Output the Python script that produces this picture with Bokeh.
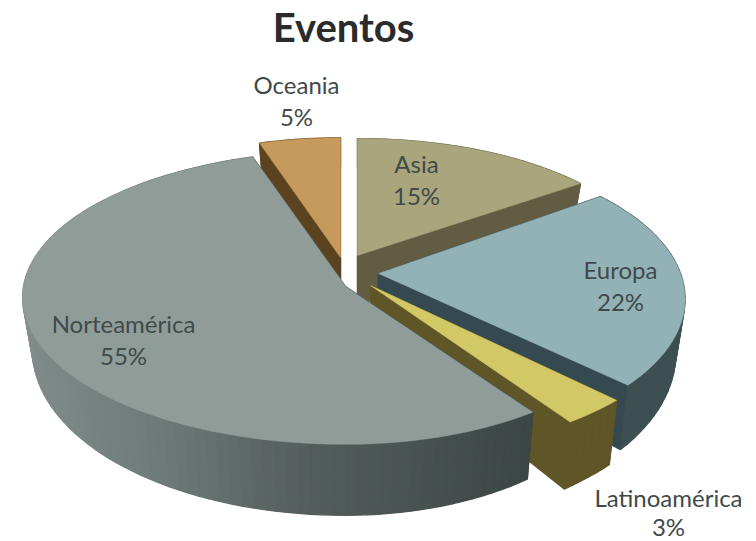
import numpy as np
from bokeh.core.properties import value
from bokeh.embed import file_html
from bokeh.models import ColumnDataSource, Range1d
from bokeh.plotting import figure
from bokeh.resources import INLINE

# Share of events per region, clockwise from twelve o'clock
categories = ["Asia", "Europa", "Latinoamérica", "Norteamérica", "Oceania"]
percentages = [15, 22, 3, 55, 5]
chart_title = "Eventos"

# Drawing style for each exploded slice: apex, radii, perspective strength, colours
SHAPE = {
    "Asia": dict(cx=357, cy=255, rx=295, ry=131, k=0.12, top="#a9a57c", side="#625c42"),
    "Europa": dict(cx=378, cy=273, rx=302, ry=144, k=0.172, top="#93b2b6", side="#3d4f51", radial="#354a50"),
    "Latinoamérica": dict(cx=370, cy=285, rx=326, ry=162, k=0.05, top="#d2c866", side="#5f5527"),
    "Norteamérica": dict(cx=345, cy=286, rx=322, ry=146, k=0.075, rx_right=0.93, top="#909c98",
                         side=[(25, "#808c89"), (150, "#6f7b78"), (300, "#545f5d"), (530, "#3b4645")]),
    "Oceania": dict(cx=340, cy=257, rx=292, ry=134, k=0.12, top="#c69a5c", side="#5c4320"),
}
LABEL_POS = {
    "Asia": (416, 163, 195),
    "Europa": (620, 269, 301),
    "Latinoamérica": (668, 497, 526),
    "Norteamérica": (123, 323, 355),
    "Oceania": (296, 84, 116),
}
SHRINK = 0.97


def hex_rgb(c):
    return np.array([int(c[i:i + 2], 16) for i in (1, 3, 5)], dtype=float)


def side_colour(side, x):
    if isinstance(side, str):
        return side
    xs = [s[0] for s in side]
    rgb = np.array([hex_rgb(s[1]) for s in side])
    mix = [np.interp(x, xs, rgb[:, i]) for i in range(3)]
    return "#%02x%02x%02x" % tuple(int(round(m)) for m in mix)


def rim(shape, theta):
    """Screen position of the upper rim at a clockwise angle in radians."""
    u, v = np.sin(theta), np.cos(theta)
    w = 1 + shape["k"] * v
    rx = np.where(u > 0, shape["rx"] * shape.get("rx_right", 1.0), shape["rx"])
    return shape["cx"] + rx * u / w, shape["cy"] - shape["ry"] * v / w


def drop(theta):
    """Extrusion height, foreshortened towards the back of the pie."""
    return 50 - 21 * np.cos(theta)


def lower(shape, x, y, theta):
    return shape["cx"] + (x - shape["cx"]) * SHRINK, y + drop(theta)


# Angular extent of every slice
total = sum(percentages)
edges = np.cumsum([0] + percentages) / total * 2 * np.pi
spans = {c: (edges[i], edges[i + 1]) for i, c in enumerate(categories)}

p = figure(width=756, height=541, output_backend="svg", toolbar_location=None,
           x_range=Range1d(0, 756), y_range=Range1d(541, 0),
           min_border=0, outline_line_color=None, background_fill_color="white")
p.axis.visible = False
p.grid.visible = False


def draw_walls(name):
    s = SHAPE[name]
    a, b = spans[name]
    cx, cy = s["cx"], s["cy"]
    xs, ys, cols = [], [], []
    # radial faces from the apex out to each cut edge
    for t in (a, b):
        x, y = rim(s, t)
        xb, yb = lower(s, x, y, t)
        xs.append([cx, x, xb, cx])
        ys.append([cy, y, yb, cy + 50])
        c = s.get("radial", s["side"])
        cols.append(side_colour(c, x) if not isinstance(c, str) else c)
    # curved outer wall built from narrow strips
    n = max(6, int((b - a) / np.radians(2.0)))
    th = np.linspace(a, b, n + 1)
    for t0, t1 in zip(th[:-1], th[1:]):
        x0, y0 = rim(s, t0)
        x1, y1 = rim(s, t1)
        xb0, yb0 = lower(s, x0, y0, t0)
        xb1, yb1 = lower(s, x1, y1, t1)
        xs.append([x0, x1, xb1, xb0])
        ys.append([y0, y1, yb1, yb0])
        cols.append(side_colour(s["side"], float((x0 + x1) / 2)))
    src = ColumnDataSource(dict(xs=xs, ys=ys, c=cols))
    p.patches("xs", "ys", source=src, fill_color="c", line_color="c", line_width=1.3)


def draw_top(name):
    s = SHAPE[name]
    a, b = spans[name]
    th = np.linspace(a, b, 160)
    x, y = rim(s, th)
    p.patch(np.r_[s["cx"], x], np.r_[s["cy"], y], fill_color=s["top"], line_color=s["top"], line_width=0.5)


# Painted back to front so nearer faces overlap the ones behind
for name in ["Oceania", "Asia", "Europa"]:
    draw_walls(name)
    draw_top(name)
draw_walls("Latinoamérica")
draw_walls("Norteamérica")
draw_top("Norteamérica")
draw_top("Latinoamérica")

FONT = value("Lato")
p.text(x=[343], y=[26], text=[chart_title], text_font=FONT, text_font_size="40px", text_font_style="bold",
       text_color="#2b2b2b", text_align="center", text_baseline="middle")
for c, pct in zip(categories, percentages):
    lx, y1, y2 = LABEL_POS[c]
    p.text(x=[lx, lx], y=[y1, y2], text=[c, f"{pct}%"], text_font=FONT, text_font_size="24px",
           text_color="#3f4a4a", text_align="center", text_baseline="middle")

open("out.html", "w").write(file_html(p, INLINE))
